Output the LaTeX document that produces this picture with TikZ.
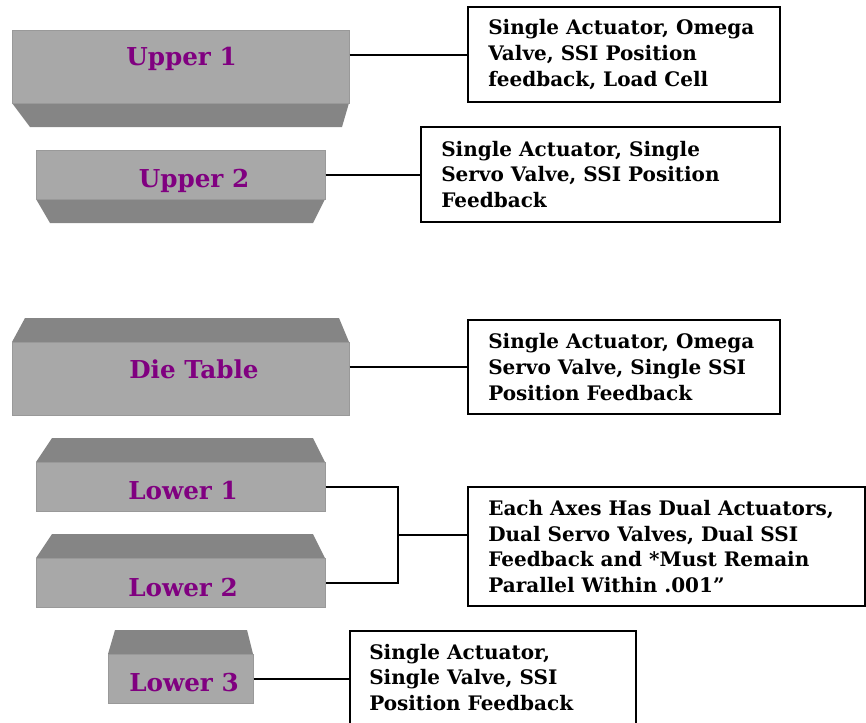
\documentclass[tikz,border=0pt]{standalone}
\usepackage{fontspec}
\setmainfont{DejaVu Serif}
\usetikzlibrary{fit, calc}

\definecolor{FaceGray}{HTML}{A8A8A8}
\definecolor{BevelGray}{HTML}{858585}
\definecolor{FaceEdge}{HTML}{999999}
\definecolor{PartPurple}{HTML}{800080}

\tikzset{
  face/.style={fill=FaceGray, draw=FaceEdge, line width=0.75pt, inner sep=0pt},
  bevel/.style={fill=BevelGray},
  partname/.style={anchor=base, inner sep=0pt, text=PartPurple,
                   font=\bfseries\fontsize{18.5}{22}\selectfont},
  notebox/.style={draw, line width=1.5pt, inner sep=0pt},
  notetext/.style={anchor=west, align=left, inner sep=0pt,
                   font=\bfseries\fontsize{15}{19.2}\selectfont},
  link/.style={line width=1.5pt}
}

\begin{document}
\begin{tikzpicture}[x=0.75pt, y=-0.75pt]

\useasboundingbox (0,0) rectangle (866,722);

% upper 1
\fill [bevel] (12,103) -- (349,103) -- (342,127) -- (30,127) -- cycle;
\node [face, fit={(12,30) (349,103)}] (upper1) {};
\node [partname] (upper1name) at (181.5,65) {Upper 1};

% upper 2
\fill [bevel] (36,199) -- (325,199) -- (313,223) -- (50,223) -- cycle;
\node [face, fit={(36,150) (325,199)}] (upper2) {};
\node [partname] (upper2name) at (194,187) {Upper 2};

% die table
\fill [bevel] (25,318) -- (339,318) -- (349,342) -- (12,342) -- cycle;
\node [face, fit={(12,342) (349,415)}] (dietable) {};
\node [partname] (dietablename) at (194,378) {Die Table};

% lower 1
\fill [bevel] (52,438) -- (313,438) -- (325,462) -- (36,462) -- cycle;
\node [face, fit={(36,462) (325,511)}] (lower1) {};
\node [partname] (lower1name) at (183,499) {Lower 1};

% lower 2
\fill [bevel] (52,534) -- (313,534) -- (325,558) -- (36,558) -- cycle;
\node [face, fit={(36,558) (325,607)}] (lower2) {};
\node [partname] (lower2name) at (183,596) {Lower 2};

% lower 3
\fill [bevel] (115,630) -- (247,630) -- (253,654) -- (108,654) -- cycle;
\node [face, fit={(108,654) (253,703)}] (lower3) {};
\node [partname] (lower3name) at (184,691) {Lower 3};

% notes
\node [notebox, fit={(468,7) (780,102)}] (note1) {};
\node [notetext] (note1text) at ($(note1.west)+(21,0)$)
      {Single Actuator, Omega\\Valve, SSI Position\\feedback, Load Cell};

\node [notebox, fit={(421,127) (780,222)}] (note2) {};
\node [notetext] (note2text) at ($(note2.west)+(21,0)$)
      {Single Actuator, Single\\Servo Valve, SSI Position\\Feedback};

\node [notebox, fit={(468,320) (780,414)}] (note3) {};
\node [notetext] (note3text) at ($(note3.west)+(21,0)$)
      {Single Actuator, Omega\\Servo Valve, Single SSI\\Position Feedback};

\node [notebox, fit={(468,487) (865,606)}] (note4) {};
\node [notetext] (note4text) at ($(note4.west)+(21,0)$)
      {Each Axes Has Dual Actuators,\\Dual Servo Valves, Dual SSI\\Feedback and *Must Remain\\Parallel Within .001”};

\node [notebox, fit={(350,631) (636,724)}] (note5) {};
\node [notetext] (note5text) at ($(note5.west)+(20,0)$)
      {Single Actuator,\\Single Valve, SSI\\Position Feedback};

% connectors
\draw [link] (upper1.east |- note1.west) -- (note1.west);
\draw [link] (upper2.east |- note2.west) -- (note2.west);
\draw [link] (dietable.east |- note3.west) -- (note3.west);
\coordinate (lowerjoin) at ($(lower1.east)!0.5!(lower2.east)+(72,0)$);
\draw [link] (lower1.east) -| (lowerjoin) |- (lower2.east);
\draw [link] (lowerjoin) -- (lowerjoin -| note4.west);
\draw [link] (lower3.east) -- (lower3.east -| note5.west);

\end{tikzpicture}
\end{document}
